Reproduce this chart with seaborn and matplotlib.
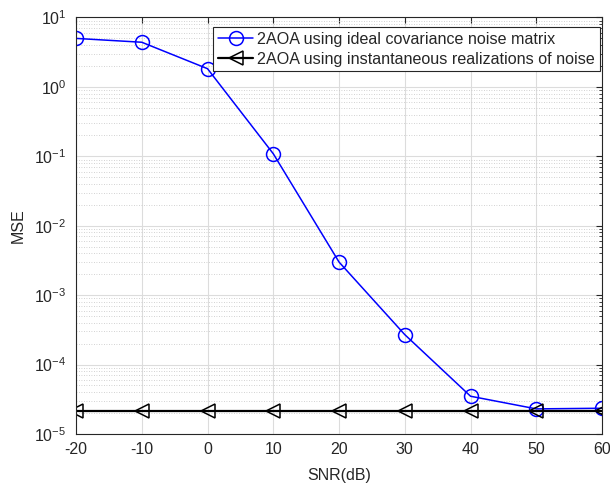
import matplotlib
matplotlib.use("Agg")
import matplotlib.pyplot as plt
import matplotlib.ticker as mticker
import pandas as pd
import seaborn as sns

# values
snr = [-20, -10, 0, 10, 20, 30, 40, 50, 60]
mse_ideal = [5.0, 4.4, 1.83, 0.109, 0.0030, 2.7e-4, 3.5e-5, 2.3e-5, 2.35e-5]
mse_inst = [2.18e-5] * 9

label_ideal = "2AOA using ideal covariance noise matrix"
label_inst = "2AOA using instantaneous realizations of noise"

df = pd.DataFrame({"SNR": snr, "ideal": mse_ideal, "inst": mse_inst})

sns.set_style("white")
plt.rcParams['font.family'] = ['Liberation Sans', 'DejaVu Sans']
plt.rcParams['axes.unicode_minus'] = False

fig = plt.figure(figsize=(6.1, 4.86), dpi=100)
ax = fig.add_axes([0.1246, 0.107, 0.8624, 0.857])

sns.lineplot(data=df, x="SNR", y="ideal", ax=ax, color="blue", lw=1.1,
             marker="o", markersize=10, markerfacecolor="none",
             markeredgecolor="blue", markeredgewidth=1.1, label=label_ideal)
sns.lineplot(data=df, x="SNR", y="inst", ax=ax, color="black", lw=1.6,
             marker="<", markersize=10, markerfacecolor="none",
             markeredgecolor="black", markeredgewidth=1.1, label=label_inst)

ax.set_yscale("log")
ax.set_xlim(-20, 60)
ax.set_ylim(1e-5, 1e1)
ax.set_xticks(snr)
ax.yaxis.set_major_locator(mticker.LogLocator(base=10, numticks=10))
ax.yaxis.set_minor_locator(mticker.LogLocator(base=10, subs=range(2, 10), numticks=20))
ax.yaxis.set_minor_formatter(mticker.NullFormatter())

ax.grid(True, which="major", color="#dcdcdc", lw=0.8)
ax.grid(True, which="minor", axis="y", color="#c4c4c4", lw=0.6, ls=(0, (1, 2)))
ax.set_axisbelow(True)

ax.tick_params(which="both", direction="in", top=True, right=True,
               labelsize=11.5, colors="#262626", length=4)
ax.tick_params(which="minor", length=2.5)
ax.tick_params(axis="x", pad=6)
ax.tick_params(axis="y", which="major", pad=7)
for s in ax.spines.values():
    s.set_color("#262626")
    s.set_linewidth(0.8)

ax.set_xlabel("SNR(dB)", fontsize=11.5, color="#262626", labelpad=8)
ax.set_ylabel("MSE", fontsize=11.5, color="#262626", labelpad=6)

leg = ax.legend(loc="upper right", bbox_to_anchor=(600 / 610, 459 / 486),
                bbox_transform=fig.transFigure, fontsize=11.6,
                frameon=True, fancybox=False, edgecolor="#262626",
                framealpha=1, borderpad=0.3, labelspacing=0.3,
                handlelength=2.2, handletextpad=0.25, borderaxespad=0.0)
leg.get_frame().set_linewidth(0.8)

fig.savefig("out.png", dpi=100)
